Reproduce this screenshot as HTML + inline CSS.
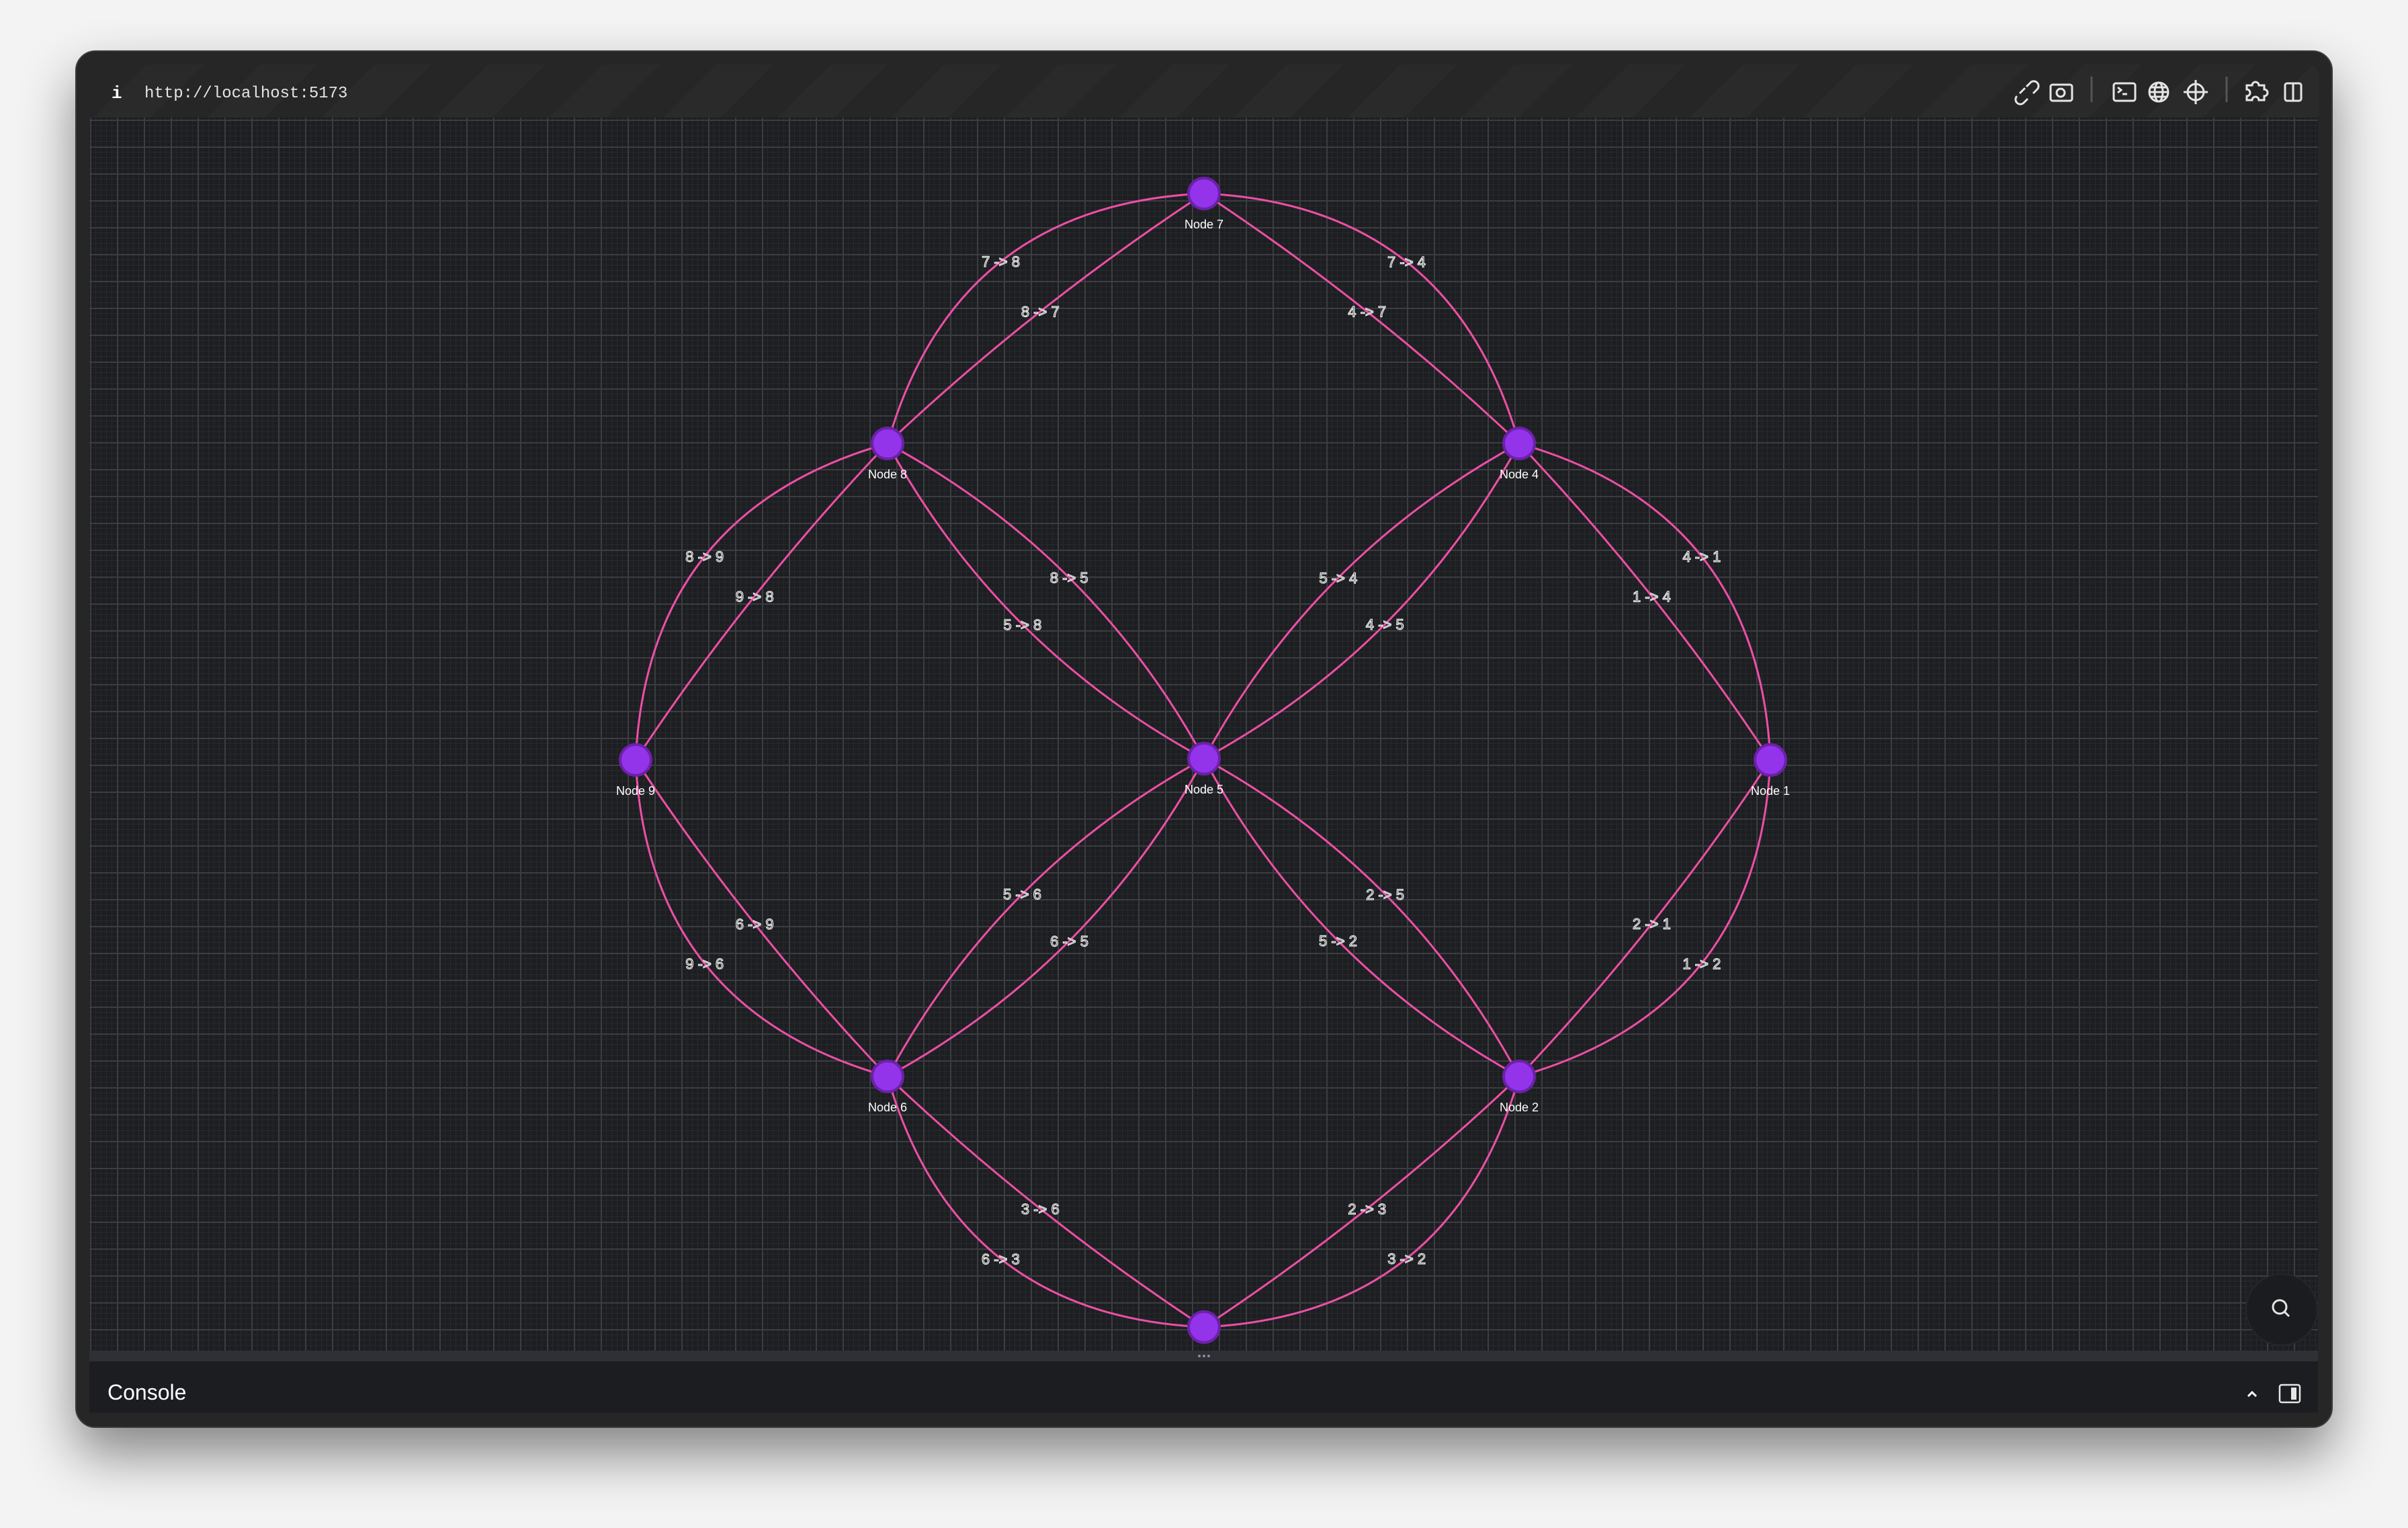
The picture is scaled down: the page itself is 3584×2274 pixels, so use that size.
<!DOCTYPE html>
<html><head><meta charset="utf-8"><style>
html,body{margin:0;padding:0;width:3584px;height:2274px;overflow:hidden;background:#f3f3f3;font-family:"Liberation Sans",sans-serif;}
#win{position:absolute;left:112px;top:75px;width:3360px;height:2050px;background:#262626;border-radius:30px;box-shadow:0 40px 80px rgba(0,0,0,0.45);border:2px solid #3a3a3a;box-sizing:border-box;}
#toolbar{position:absolute;left:133px;top:96px;width:3319px;height:79px;border-radius:18px 18px 0 0;background:repeating-linear-gradient(135deg,#262626 0 60px,#2a2a2a 60px 120px);}
#url{position:absolute;left:215px;top:126px;color:#e5e5e5;font:24px "Liberation Mono",monospace;}
#info{position:absolute;left:166px;top:124px;color:#fff;font:bold 26px "Liberation Mono",monospace;}
#canvas{position:absolute;left:133px;top:175px;width:3317px;height:1835px;background-color:#1d1e21;
background-image:linear-gradient(#3b3d42 2px,transparent 2px),linear-gradient(90deg,#3b3d42 2px,transparent 2px),linear-gradient(#28292d 1px,transparent 1px),linear-gradient(90deg,#28292d 1px,transparent 1px);
background-size:40px 40px,40px 40px,8px 8px,8px 8px;background-position:0 3px,1px 0,0 3px,1px 0;}
#handle{position:absolute;left:133px;top:2010px;width:3317px;height:16px;background:#2e3036;}
#console{position:absolute;left:133px;top:2026px;width:3317px;height:76px;background:#1c1d20;}
#console span{position:absolute;left:27px;top:28px;color:#fff;font-size:32px;}
#search{position:absolute;left:3342px;top:1895px;width:108px;height:108px;border-radius:50%;background:#1b1c1f;border:2px solid #26272b;box-sizing:border-box;}
svg{position:absolute;left:0;top:0;}
</style></head><body>
<div id="win"></div>
<div id="toolbar"></div>
<div id="info">i</div>
<div id="url">http://localhost:5173</div>
<svg width="3584" height="200" style="fill:none;stroke:#e5e5e5;stroke-width:3">
<g transform="translate(0,-7)">
<g><path d="M3006 146 l8 -8 M3002 150 a7 7 0 0 0 10 10 l6 -6 M3016 136 l6 -6 a7 7 0 0 1 10 10 l-6 6"/></g>
<g><rect x="3052" y="133" width="32" height="24" rx="3"/><circle cx="3067" cy="145" r="6"/></g>
<line x1="3113" y1="121" x2="3113" y2="159" stroke="#555"/>
<g><rect x="3146" y="131" width="32" height="26" rx="3"/><path d="M3152 137 l5 4 -5 4 M3159 147 h7"/></g>
<g><circle cx="3213" cy="144" r="14"/><ellipse cx="3213" cy="144" rx="6" ry="14"/><path d="M3199 144 h28 M3201 137 h24 M3201 151 h24"/></g>
<g><circle cx="3268" cy="144" r="12"/><path d="M3268 126 v36 M3250 144 h36"/></g>
<line x1="3314" y1="121" x2="3314" y2="159" stroke="#555"/>
<g><path d="M3344 134 h8 a5 5 0 0 1 10 0 h8 v6 a5 5 0 0 1 0 10 v6 h-8 a5 5 0 0 0 -10 0 h-8 v-6 a5 5 0 0 0 0 -10 z"/></g>
<g><rect x="3401" y="131" width="24" height="26" rx="3"/><line x1="3413" y1="131" x2="3413" y2="157"/></g>
</g>
</svg>
<div id="canvas"></div>
<svg id="graph" width="3584" height="2274"></svg>
<div id="search"></div>
<svg width="3584" height="2274" style="pointer-events:none"><circle cx="3393" cy="1945" r="10" fill="none" stroke="#e5e5e5" stroke-width="3"/><line x1="3400" y1="1952" x2="3407" y2="1959" stroke="#e5e5e5" stroke-width="3"/></svg>
<div id="handle"></div>
<div id="console"><span>Console</span></div>
<svg width="3584" height="2274" style="pointer-events:none">
<path d="M3346 2078 l6 -6 6 6" fill="none" stroke="#fff" stroke-width="3"/>
<g><rect x="3393" y="2061" width="30" height="26" rx="3" fill="none" stroke="#e5e5e5" stroke-width="2.5"/><rect x="3410" y="2065" width="8" height="18" fill="#e5e5e5"/></g>
<g fill="#8a8d94"><circle cx="1785" cy="2018" r="2"/><circle cx="1792" cy="2018" r="2"/><circle cx="1799" cy="2018" r="2"/></g>
</svg>
<script>
const nodeIds = [1,2,3,4,5,6,7,8,9];
const nodeX = [2635,2261,1792,2261,1792,1321,1792,1321,946];
const nodeY = [1131,1602,1975,660,1129,1602,288,660,1131];
const edgeSrc = [7,8,7,4,8,9,4,1,9,6,1,2,6,3,3,2,8,5,5,4,5,6,2,5];
const edgeTgt = [8,7,4,7,9,8,1,4,6,9,2,1,3,6,2,3,5,8,4,5,6,5,5,2];
const edgeBend = [0.18,-0.022,-0.18,0.022,0.18,-0.022,-0.18,0.022,0.18,-0.022,-0.18,0.022,0.18,-0.022,0.18,-0.022,-0.074,-0.074,-0.074,-0.074,0.074,0.074,0.074,0.074];
const NS = 'http://www.w3.org/2000/svg';
const g = document.getElementById('graph');
function pos(id){const i=nodeIds.indexOf(id);return [nodeX[i],nodeY[i]];}
const labels=[];
for(let k=0;k<edgeSrc.length;k++){
  const [x1,y1]=pos(edgeSrc[k]),[x2,y2]=pos(edgeTgt[k]);
  const dx=x2-x1,dy=y2-y1,L=Math.hypot(dx,dy);
  const px=-dy/L,py=dx/L,c=edgeBend[k];
  const mx=(x1+x2)/2,my=(y1+y2)/2;
  const cx=mx+2*c*L*px,cy=my+2*c*L*py;
  const p=document.createElementNS(NS,'path');
  p.setAttribute('d',`M${x1} ${y1} Q${cx} ${cy} ${x2} ${y2}`);
  p.setAttribute('fill','none');p.setAttribute('stroke','#ec4fa6');p.setAttribute('stroke-width','3');
  
  
  g.appendChild(p);
  labels.push([mx+c*L*px,my+c*L*py,edgeSrc[k]+' -> '+edgeTgt[k]]);
}
for(const [lx,ly,s] of labels){
  const t=document.createElementNS(NS,'text');
  t.setAttribute('x',lx);t.setAttribute('y',ly+8);t.setAttribute('text-anchor','middle');
  t.setAttribute('font-family','Liberation Sans, sans-serif');t.setAttribute('font-size','22');
  t.setAttribute('fill','#222326');t.setAttribute('stroke','#eeeeee');t.setAttribute('stroke-width','1.2');
  t.textContent=s;
  
  
  g.appendChild(t);
}
for(let i=0;i<nodeIds.length;i++){
  const c=document.createElementNS(NS,'circle');
  c.setAttribute('cx',nodeX[i]);c.setAttribute('cy',nodeY[i]);c.setAttribute('r','23');
  c.setAttribute('fill','#9333ea');c.setAttribute('stroke','#6b21a8');c.setAttribute('stroke-width','4');
  
  
  g.appendChild(c);
  const t=document.createElementNS(NS,'text');
  t.setAttribute('x',nodeX[i]);t.setAttribute('y',nodeY[i]+52);t.setAttribute('text-anchor','middle');
  t.setAttribute('font-family','Liberation Sans, sans-serif');t.setAttribute('font-size','18');t.setAttribute('fill','#fff');
  t.textContent='Node '+nodeIds[i];
  
  
  g.appendChild(t);
}
</script>
</body></html>
